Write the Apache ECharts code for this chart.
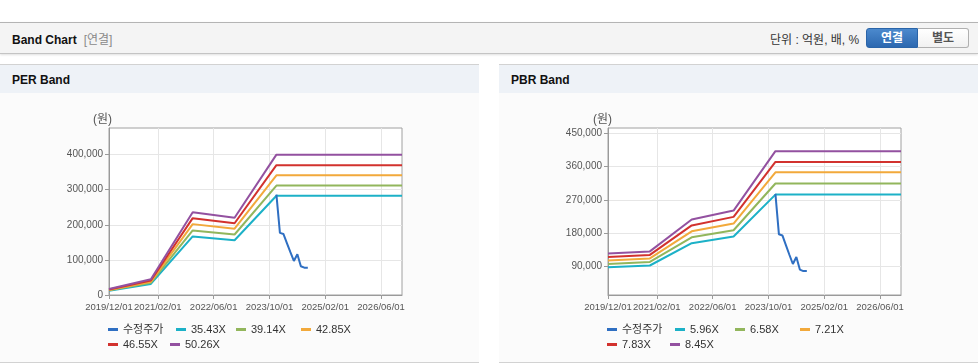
<!DOCTYPE html>
<html><head><meta charset="utf-8">
<script src="https://cdn.jsdelivr.net/npm/echarts@6/dist/echarts.min.js"></script>
<style>
html,body{margin:0;padding:0;width:978px;height:364px;overflow:hidden;background:#fff;font-family:'Liberation Sans','Noto Sans CJK KR',sans-serif;}
#top{position:absolute;left:0;top:22px;width:978px;height:30px;border-top:1px solid #b4b4b4;border-bottom:1px solid #c4c4c4;background:#f4f4f4;box-shadow:0 1px 2px rgba(0,0,0,0.12);}
#title{position:absolute;left:12px;top:7px;font-size:12px;font-weight:bold;color:#111;white-space:nowrap;}
#title span{font-weight:normal;color:#8a8a8a;margin-left:7px;}
#unit{position:absolute;left:770px;top:7px;font-size:12px;color:#333;white-space:nowrap;}
.btn{position:absolute;top:5px;height:20px;line-height:18px;text-align:center;font-size:12px;font-weight:bold;box-sizing:border-box;}
#b1{left:866px;width:52px;background:linear-gradient(#4b89cd,#2c68b0);color:#fff;border:1px solid #2a64a8;border-radius:3px 0 0 3px;}
#b2{left:918px;width:51px;background:linear-gradient(#fff,#f1f1f1);color:#555;border:1px solid #b0b0b0;border-left:none;border-radius:0 3px 3px 0;}
.panel{position:absolute;top:64px;width:479px;height:297px;border-top:1px solid #d2d2d2;border-bottom:1px solid #d2d2d2;background:#fbfbfb;}
.panel .hd{height:28px;background:#eef2f7;font-size:12px;font-weight:bold;color:#111;line-height:31px;padding-left:12px;}
#chart{position:absolute;left:0;top:0;width:978px;height:364px;}
</style></head>
<body>
<div id="top">
  <div id="title">Band Chart<span>[연결]</span></div>
  <div id="unit">단위 : 억원, 배, %</div>
  <div class="btn" id="b1">연결</div>
  <div class="btn" id="b2">별도</div>
</div>
<div class="panel" style="left:0"><div class="hd">PER Band</div></div>
<div class="panel" style="left:499px"><div class="hd">PBR Band</div></div>
<div id="chart"></div>
<script>
// ---------- data ----------
const xTickLabels = ['2019/12/01','2021/02/01','2022/06/01','2023/10/01','2025/02/01','2026/06/01'];
const bandDates = ['2019/12/01','2020/12/01','2021/12/01','2022/12/01','2023/12/01','2026/12/01'];
const priceDates = ['2023/12/01','2024/01/01','2024/02/01','2024/03/01','2024/04/01','2024/05/01','2024/06/01','2024/07/01','2024/08/01','2024/09/01'];
const price = [286000,177000,174000,148000,122000,97000,116000,82000,78000,78000];

const perNames = ['35.43X','39.14X','42.85X','46.55X','50.26X'];
const per3543 = [12000,31500,167000,156000,283000,283000];
const per3914 = [13300,35000,184000,172500,312000,312000];
const per4285 = [14500,38000,202000,189000,341000,341000];
const per4655 = [15800,41500,219000,204500,370000,370000];
const per5026 = [17000,45000,236000,220000,400000,400000];
const perTicks = [0,100000,200000,300000,400000];

const pbrNames = ['5.96X','6.58X','7.21X','7.83X','8.45X'];
const pbr596 = [88000,93000,153000,171000,284000,284000];
const pbr658 = [97000,102500,169000,188000,314000,314000];
const pbr721 = [106500,112000,185000,206000,344000,344000];
const pbr783 = [116000,121500,201000,224000,372000,372000];
const pbr845 = [125000,131000,217000,241000,401000,401000];
const pbrTicks = [90000,180000,270000,360000,450000];

// monthly category axis 2019/12 .. 2026/12
const months = [];
for (let y = 2019, m = 12; y < 2027; ) {
  months.push(y + '/' + String(m).padStart(2,'0') + '/01');
  if (y === 2026 && m === 12) break;
  m++; if (m > 12) { m = 1; y++; }
}

const priceName = '수정주가';
const colors = ['#2f6fc2','#1cb1c7','#92b65c','#f2a93b','#d2322e','#9351a0'];
const FF = "'Liberation Sans','Noto Sans CJK KR',sans-serif";

const zip = (xs, ys) => xs.map((x, i) => [x, ys[i]]);
const isTick = (i, v) => xTickLabels.indexOf(v) >= 0;

function xAxis(g) {
  return {
    type:'category', gridIndex:g, data:months, boundaryGap:false,
    axisLine:{lineStyle:{color:'#9a9a9a'}},
    axisTick:{show:true, interval:isTick, length:4, lineStyle:{color:'#9a9a9a'}},
    axisLabel:{interval:isTick, color:'#555', fontSize:9.5, fontFamily:FF, margin:8,
               showMinLabel:true, hideOverlap:false},
    splitLine:{show:true, interval:isTick, lineStyle:{color:'#e6e6e6'}}
  };
}
function yAxis(g, min, max, ticks) {
  return {
    type:'value', gridIndex:g, min:min, max:max,
    axisLine:{show:true, lineStyle:{color:'#9a9a9a'}},
    axisTick:{show:true, customValues:ticks, length:4, lineStyle:{color:'#9a9a9a'}},
    axisLabel:{customValues:ticks, color:'#555', fontSize:10, fontFamily:FF, margin:6,
               formatter: v => Number(v).toLocaleString('en-US')},
    splitLine:{show:true, lineStyle:{color:'#e6e6e6'}}
  };
}
function line(name, g, data, color, z) {
  return {type:'line', name, xAxisIndex:g, yAxisIndex:g, data, showSymbol:false, symbol:'none',
          connectNulls:true, lineStyle:{width:2, color}, itemStyle:{color}, z:z||2, silent:true};
}

const series = [
  line(priceName, 0, zip(priceDates, price), colors[0], 5),
  line(perNames[0], 0, zip(bandDates, per3543), colors[1]),
  line(perNames[1], 0, zip(bandDates, per3914), colors[2]),
  line(perNames[2], 0, zip(bandDates, per4285), colors[3]),
  line(perNames[3], 0, zip(bandDates, per4655), colors[4]),
  line(perNames[4], 0, zip(bandDates, per5026), colors[5]),
  line(priceName, 1, zip(priceDates, price), colors[0], 5),
  line(pbrNames[0], 1, zip(bandDates, pbr596), colors[1]),
  line(pbrNames[1], 1, zip(bandDates, pbr658), colors[2]),
  line(pbrNames[2], 1, zip(bandDates, pbr721), colors[3]),
  line(pbrNames[3], 1, zip(bandDates, pbr783), colors[4]),
  line(pbrNames[4], 1, zip(bandDates, pbr845), colors[5])
];

// legend layout (icon positions)
const legendPos = [
  [priceName,108,324],[perNames[0],176,324],[perNames[1],236,324],[perNames[2],301,324],
  [perNames[3],108,339],[perNames[4],170,339],
  [priceName,607,324],[pbrNames[0],675,324],[pbrNames[1],735,324],[pbrNames[2],800,324],
  [pbrNames[3],607,339],[pbrNames[4],670,339]
];
const legends = legendPos.map(p => ({
  left:p[1], top:p[2], data:[p[0]], icon:'rect', itemWidth:10, itemHeight:3, itemGap:0, padding:0,
  selectedMode:false, textStyle:{fontSize:11, color:'#333', fontFamily:FF}
}));

const chart = echarts.init(document.getElementById('chart'), null, {renderer:'canvas'});
chart.setOption({
  animation:false,
  backgroundColor:'transparent',
  grid:[
    {left:109, top:128, width:293, height:167, show:true, borderColor:'#a0a0a0', borderWidth:1, backgroundColor:'#fff'},
    {left:608, top:128, width:293, height:167, show:true, borderColor:'#a0a0a0', borderWidth:1, backgroundColor:'#fff'}
  ],
  xAxis:[xAxis(0), xAxis(1)],
  yAxis:[yAxis(0, 0, 476000, perTicks), yAxis(1, 13500, 463500, pbrTicks)],
  legend:legends,
  graphic:[
    {type:'text', left:93, top:114, style:{text:'(원)', fontSize:12, fill:'#555', fontFamily:FF}},
    {type:'text', left:593, top:114, style:{text:'(원)', fontSize:12, fill:'#555', fontFamily:FF}}
  ],
  series
});
</script>
</body></html>
